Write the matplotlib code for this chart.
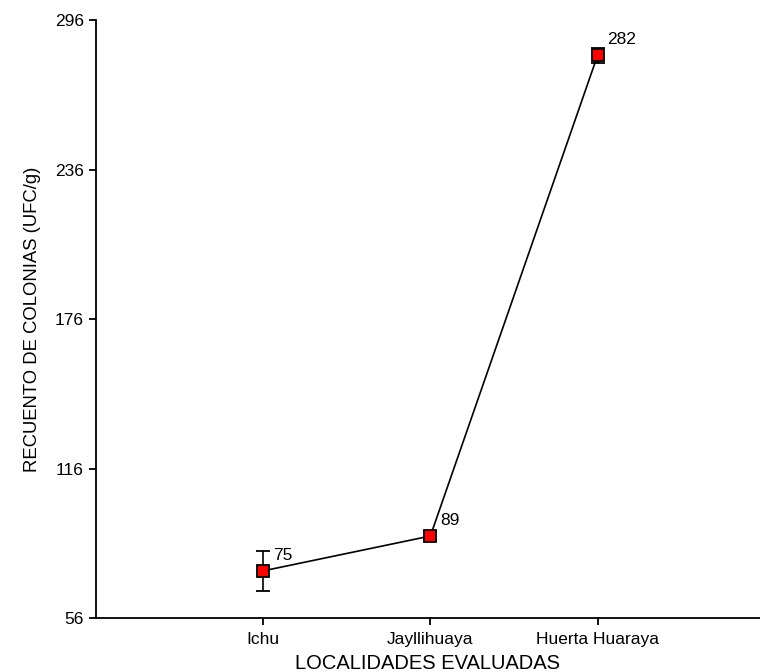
import matplotlib
matplotlib.use("Agg")
import matplotlib.pyplot as plt

plt.rcParams['font.family'] = ['Liberation Sans', 'DejaVu Sans']

localidades = ["Ichu", "Jayllihuaya", "Huerta Huaraya"]
recuento = [75, 89, 282]
error = [8, 1.5, 3]
yticks = [56, 116, 176, 236, 296]

fig = plt.figure(figsize=(7.6, 6.72), dpi=100)
ax = fig.add_axes([0.126, 0.080, 0.874, 0.890])

x = list(range(1, len(localidades) + 1))
ax.errorbar(x, recuento, yerr=error, color='black', lw=1.2, capsize=5,
            elinewidth=1.2, capthick=1.2, marker='s', markersize=8,
            markerfacecolor='red', markeredgecolor='black', markeredgewidth=1.3,
            zorder=3)

for xi, v in zip(x, recuento):
    ax.annotate(str(v), (xi, v), xytext=(7, 8), textcoords='offset points',
                fontsize=12.5, ha='left', va='baseline')

ax.set_xlim(0, 3.97)
ax.set_ylim(56, 296)
ax.set_yticks(yticks)
ax.set_xticks(x)
ax.set_xticklabels(localidades)
ax.tick_params(axis='both', direction='out', length=5, width=1.3, labelsize=12.5)
ax.tick_params(axis='x', pad=5)
ax.spines['top'].set_visible(False)
ax.spines['right'].set_visible(False)
ax.spines['left'].set_linewidth(1.3)
ax.spines['bottom'].set_linewidth(1.3)

ax.set_xlabel("LOCALIDADES EVALUADAS", fontsize=14.5, labelpad=5)
ax.set_ylabel("RECUENTO DE COLONIAS (UFC/g)", fontsize=13.3, labelpad=10)

fig.savefig("out.png", dpi=100)
